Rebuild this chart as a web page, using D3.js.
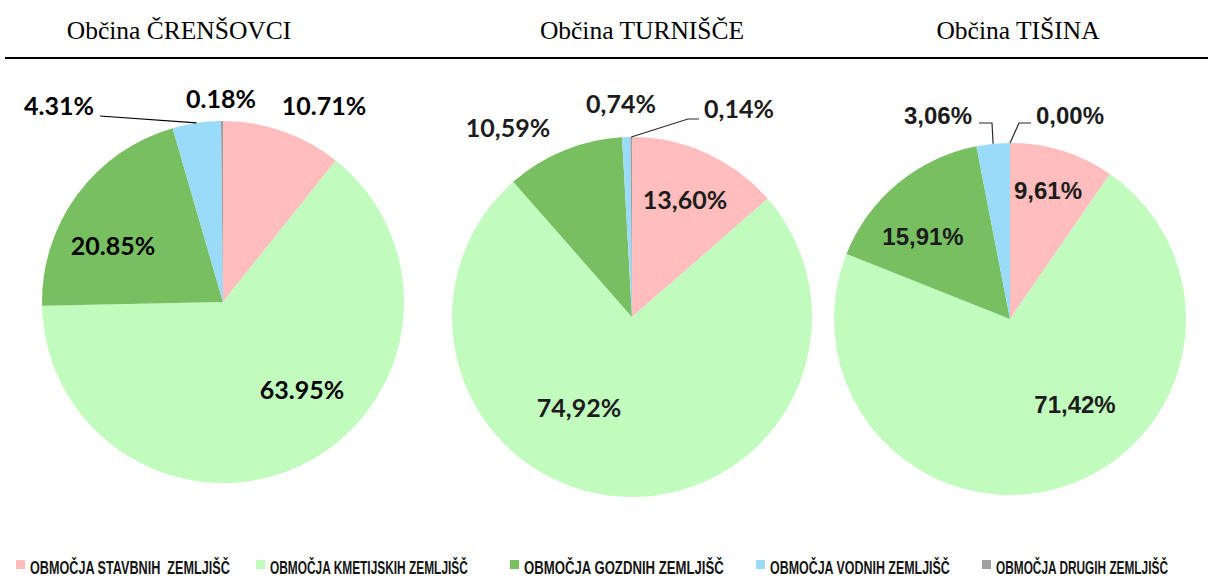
<!DOCTYPE html>
<html>
<head>
<meta charset="utf-8">
<script src="https://cdn.jsdelivr.net/npm/d3@7"></script>
<style>
  html, body { margin: 0; padding: 0; background: #ffffff; }
  svg { display: block; }
</style>
</head>
<body>
<svg id="chart" width="1211" height="581"></svg>
<script>
// ---------------- DATA ----------------
const categories = [
  "OBMOČJA STAVBNIH  ZEMLJIŠČ",
  "OBMOČJA KMETIJSKIH ZEMLJIŠČ",
  "OBMOČJA GOZDNIH ZEMLJIŠČ",
  "OBMOČJA VODNIH ZEMLJIŠČ",
  "OBMOČJA DRUGIH ZEMLJIŠČ"
];
const municipalities = ["Občina ČRENŠOVCI", "Občina TURNIŠČE", "Občina TIŠINA"];
const valuesCrensovci = [10.71, 63.95, 20.85, 4.31, 0.18];
const valuesTurnisce  = [13.60, 74.92, 10.59, 0.74, 0.14];
const valuesTisina    = [9.61, 71.42, 15.91, 3.06, 0.00];
const decimalMarks = [".", ",", ","];

// ---------------- STYLE / LAYOUT ----------------
const colors = ["#ffbdbd", "#c1fbbe", "#78bf62", "#9adbfa", "#a0a0a0"];
const svg = d3.select("#chart");
const W = 1211;

const pies = [
  { values: valuesCrensovci, cx: 223, cy: 302, r: 181, titleX: 179,
    font: "Lato, 'Open Sans', sans-serif", size: 25, fill: "#000000", lineColor: "#000000",
    labels: [[101,-187],[79,97],[-110,-47],[-164,-187],[-2,-194]],
    leaders: [{ i: 3, pts: [[-123,-186]] }] },
  { values: valuesTurnisce, cx: 632, cy: 317, r: 180, titleX: 642,
    font: "Lato, 'Open Sans', sans-serif", size: 25, fill: "#1c1c1c", lineColor: "#2a2a2a",
    labels: [[53,-108],[-53,100],[-124,-180],[-11,-204],[107,-199]],
    leaders: [{ i: 4, pts: [[67,-198],[56,-198]] }] },
  { values: valuesTisina, cx: 1010, cy: 319, r: 176, titleX: 1018,
    font: "'Liberation Sans', Arial, sans-serif", size: 24, fill: "#1c1c1c", lineColor: "#2a2a2a",
    labels: [[38,-120],[65,94],[-87,-74],[-72,-195],[60,-195]],
    leaders: [{ i: 3, pts: [[-31,-196],[-18,-196]] }, { i: 4, pts: [[21,-196],[9,-196]] }] }
];

// ---------------- TITLES ----------------
svg.selectAll("text.title")
  .data(pies)
  .join("text")
  .attr("class", "title")
  .attr("x", d => d.titleX)
  .attr("y", 39)
  .attr("text-anchor", "middle")
  .attr("font-family", "'Liberation Serif', 'Times New Roman', serif")
  .attr("font-size", 25.5)
  .attr("fill", "#000")
  .text((d, i) => municipalities[i]);

svg.append("line")
  .attr("x1", 5).attr("x2", W - 3)
  .attr("y1", 58).attr("y2", 58)
  .attr("stroke", "#000").attr("stroke-width", 2);

// ---------------- PIES ----------------
const pie = d3.pie().sort(null).value(d => d).startAngle(0).endAngle(2 * Math.PI);

pies.forEach((p, pi) => {
  const g = svg.append("g").attr("transform", `translate(${p.cx},${p.cy})`);
  const arcs = pie(p.values);
  const arc = d3.arc().innerRadius(0).outerRadius(p.r);

  g.selectAll("path.slice")
    .data(arcs)
    .join("path")
    .attr("class", "slice")
    .attr("d", arc)
    .attr("fill", (d, i) => colors[i]);

  // leader lines: elbow points, ending on the slice's outer edge at its mid-angle
  p.leaders.forEach(L => {
    const a = arcs[L.i];
    const mid = (a.startAngle + a.endAngle) / 2;
    const end = [p.r * Math.sin(mid), -p.r * Math.cos(mid)];
    g.append("path")
      .attr("d", d3.line()([...L.pts, end]))
      .attr("fill", "none")
      .attr("stroke", p.lineColor)
      .attr("stroke-width", 1.2);
  });

  const fmt = d3.format(".2f");
  g.selectAll("text.lbl")
    .data(arcs)
    .join("text")
    .attr("class", "lbl")
    .attr("x", (d, i) => p.labels[i][0])
    .attr("y", (d, i) => p.labels[i][1])
    .attr("text-anchor", "middle")
    .attr("font-family", p.font)
    .attr("font-weight", "bold")
    .attr("font-size", p.size)
    .attr("fill", p.fill)
    .text(d => fmt(d.data).replace(".", decimalMarks[pi]) + "%");
});

// ---------------- LEGEND ----------------
const legendTextX = [30, 270, 524, 770, 996];
const legendTextW = [200, 198, 200, 180, 172];
const lg = svg.append("g");
lg.selectAll("rect")
  .data(categories)
  .join("rect")
  .attr("x", (d, i) => legendTextX[i] - 14)
  .attr("y", 560)
  .attr("width", 9)
  .attr("height", 9)
  .attr("fill", (d, i) => colors[i]);
const items = lg.selectAll("g.item")
  .data(categories)
  .join("g")
  .attr("class", "item");
items.append("text")
  .attr("x", 0)
  .attr("y", 0)
  .attr("font-family", "'Liberation Sans Narrow', 'Arial Narrow', 'Liberation Sans', Arial, sans-serif")
  .attr("font-weight", "bold")
  .attr("font-size", 17.5)
  .attr("fill", "#151515")
  .style("white-space", "pre")
  .text(d => d);
// condense each legend text horizontally to the width it has in the reference
items.attr("transform", function(d, i) {
  const w = this.querySelector("text").getComputedTextLength() || legendTextW[i];
  return `translate(${legendTextX[i]},574) scale(${legendTextW[i] / w},1)`;
});
</script>
</body>
</html>
